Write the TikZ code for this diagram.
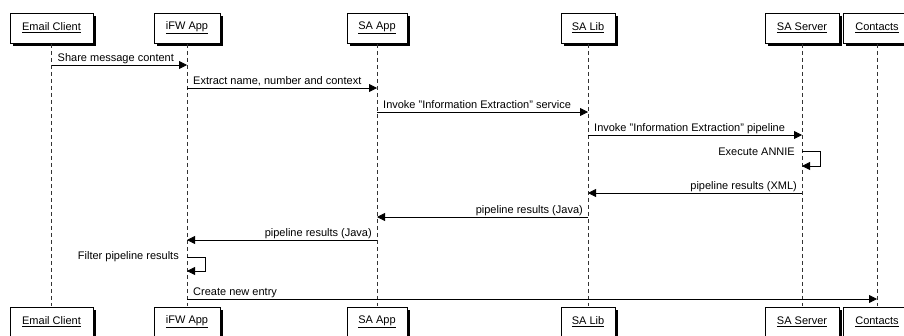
\documentclass[tikz,border=0pt]{standalone}
\usepackage{fontspec}
\setmainfont{Liberation Sans}
\usetikzlibrary{arrows.meta,shadows,calc}
\begin{document}
\begin{tikzpicture}[x=1pt,y=-1pt,
  actor/.style={draw=black, line width=0.8pt, fill=white, minimum height=30pt, inner sep=0pt,
    font=\fontsize{11}{13}\selectfont,
    general shadow={shadow xshift=2.6pt, shadow yshift=-2.6pt, fill=black}},
  lifeline/.style={draw=black!80, line width=0.7pt, dash pattern=on 4.5pt off 2.5pt},
  msg/.style={draw=black, line width=0.8pt, -{Triangle[length=8pt,width=8pt]}},
  lblR/.style={anchor=base west, inner sep=0pt, font=\fontsize{11}{13}\selectfont},
  lblL/.style={anchor=base east, inner sep=0pt, font=\fontsize{11}{13}\selectfont},
  lblS/.style={anchor=east, inner sep=0pt, font=\fontsize{11}{13}\selectfont}]
\useasboundingbox (0,0) rectangle (904,335);
\begin{scope}
\clip (0,0) rectangle (904,335);
% top actors
\node[actor, minimum width=83pt] (ecT) at (51.5,28) {\underline{Email Client}};
\node[actor, minimum width=66pt] (ifT) at (187,28) {\underline{iFW App}};
\node[actor, minimum width=60pt] (saT) at (377,28) {\underline{SA App}};
\node[actor, minimum width=54pt] (slT) at (588,28) {\underline{SA Lib}};
\node[actor, minimum width=74pt] (ssT) at (802,28) {\underline{SA Server}};
\node[actor, minimum width=68pt] (coT) at (877,28) {\underline{Contacts}};
% bottom actors
\node[actor, minimum width=83pt] (ecB) at (51.5,322) {\underline{Email Client}};
\node[actor, minimum width=66pt] (ifB) at (187,322) {\underline{iFW App}};
\node[actor, minimum width=60pt] (saB) at (377,322) {\underline{SA App}};
\node[actor, minimum width=54pt] (slB) at (588,322) {\underline{SA Lib}};
\node[actor, minimum width=74pt] (ssB) at (802,322) {\underline{SA Server}};
\node[actor, minimum width=68pt] (coB) at (877,322) {\underline{Contacts}};
\end{scope}
% lifelines
\begin{scope}[on background layer/.style={}]
\draw[lifeline] ([yshift=-0.4pt]ecT.south) -- ([yshift=0.4pt]ecB.north);
\draw[lifeline] ([yshift=-0.4pt]ifT.south) -- ([yshift=0.4pt]ifB.north);
\draw[lifeline] ([yshift=-0.4pt]saT.south) -- ([yshift=0.4pt]saB.north);
\draw[lifeline] ([yshift=-0.4pt]slT.south) -- ([yshift=0.4pt]slB.north);
\draw[lifeline] ([yshift=-0.4pt]ssT.south) -- ([yshift=0.4pt]ssB.north);
\draw[lifeline] ([yshift=-0.4pt]coT.south) -- ([yshift=0.4pt]coB.north);
\end{scope}
% message anchor coordinates
\coordinate (m1a) at (ecT.south |- 0,65);  \coordinate (m1b) at (ifT.south |- 0,65);
\coordinate (m2a) at (ifT.south |- 0,88);  \coordinate (m2b) at (saT.south |- 0,88);
\coordinate (m3a) at (saT.south |- 0,112); \coordinate (m3b) at (slT.south |- 0,112);
\coordinate (m4a) at (slT.south |- 0,135); \coordinate (m4b) at (ssT.south |- 0,135);
\coordinate (m5a) at (ssT.south |- 0,151); \coordinate (m5b) at (ssT.south |- 0,166);
\coordinate (m6a) at (ssT.south |- 0,193); \coordinate (m6b) at (slT.south |- 0,193);
\coordinate (m7a) at (slT.south |- 0,217); \coordinate (m7b) at (saT.south |- 0,217);
\coordinate (m8a) at (saT.south |- 0,240); \coordinate (m8b) at (ifT.south |- 0,240);
\coordinate (m9a) at (ifT.south |- 0,257); \coordinate (m9b) at (ifT.south |- 0,271);
\coordinate (m10a) at (ifT.south |- 0,299); \coordinate (m10b) at (coT.south |- 0,299);
% messages
\draw[msg] (m1a) -- (m1b);
\node[lblR] (t1) at ($(m1a)+(6,-3.5)$) {Share message content};
\draw[msg] (m2a) -- (m2b);
\node[lblR] (t2) at ($(m2a)+(6,-3.5)$) {Extract name, number and context};
\draw[msg] (m3a) -- (m3b);
\node[lblR] (t3) at ($(m3a)+(6,-3.5)$) {Invoke "Information Extraction" service};
\draw[msg] (m4a) -- (m4b);
\node[lblR] (t4) at ($(m4a)+(6,-3.5)$) {Invoke "Information Extraction" pipeline};
\draw[msg] (m5a) -- ++(18,0) |- (m5b);
\node[lblS] (t5) at ($(m5a)+(-7,1)$) {Execute ANNIE};
\draw[msg] (m6a) -- (m6b);
\node[lblL] (t6) at ($(m6a)+(-5,-3.5)$) {pipeline results (XML)};
\draw[msg] (m7a) -- (m7b);
\node[lblL] (t7) at ($(m7a)+(-5,-3.5)$) {pipeline results (Java)};
\draw[msg] (m8a) -- (m8b);
\node[lblL] (t8) at ($(m8a)+(-5,-3.5)$) {pipeline results (Java)};
\draw[msg] (m9a) -- ++(18,0) |- (m9b);
\node[lblS] (t9) at ($(m9a)+(-8,0)$) {Filter pipeline results};
\draw[msg] (m10a) -- (m10b);
\node[lblR] (t10) at ($(m10a)+(6,-3.5)$) {Create new entry};
\end{tikzpicture}
\end{document}
